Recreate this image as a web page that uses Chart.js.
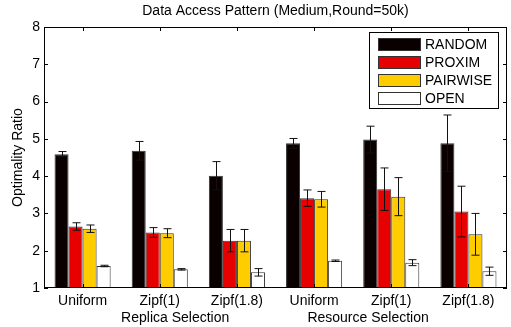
<!DOCTYPE html>
<html lang="en">
  <head>
    <meta charset="UTF-8" />
    <title>Data Access Pattern</title>
    <script src="https://cdn.jsdelivr.net/npm/chart.js"></script>
    <style>
      body {
        margin: 0;
        padding: 0;
        background: #fff;
      }
      .chart-box {
        width: 511px;
        height: 327px;
      }
    </style>
  </head>
  <body>
    <div class="chart-box">
      <canvas id="patternChart"></canvas>
    </div>

    <script>
      const categories = ["Uniform", "Zipf(1)", "Zipf(1.8)", "Uniform", "Zipf(1)", "Zipf(1.8)"];
      const groupLabels = ["Replica Selection", "Resource Selection"];
      const yTicks = [1, 2, 3, 4, 5, 6, 7, 8];

      const randomVals = [4.59, 4.68, 4.01, 4.88, 4.98, 4.88];
      const proximVals = [2.65, 2.49, 2.27, 3.41, 3.65, 3.05];
      const pairwiseVals = [2.59, 2.47, 2.27, 3.38, 3.45, 2.44];
      const openVals = [1.59, 1.5, 1.42, 1.73, 1.68, 1.45];

      const randomErr = [0.07, 0.25, 0.38, 0.13, 0.36, 0.76];
      const proximErr = [0.1, 0.13, 0.3, 0.22, 0.57, 0.68];
      const pairwiseErr = [0.1, 0.12, 0.3, 0.21, 0.51, 0.56];
      const openErr = [0.02, 0.02, 0.1, 0.02, 0.08, 0.11];

      const FONT = "'Liberation Sans', Arial, sans-serif";

      // error bars drawn on top of the bars, through the y scale
      const errorBars = {
        id: "errorBars",
        afterDatasetsDraw(chart) {
          const ctx = chart.ctx;
          const y = chart.scales.y;
          ctx.save();
          ctx.strokeStyle = "#111";
          ctx.lineWidth = 1;
          chart.data.datasets.forEach((ds, i) => {
            const meta = chart.getDatasetMeta(i);
            meta.data.forEach((bar, j) => {
              const v = ds.data[j];
              const e = ds.errors[j];
              const x = Math.round(bar.x) + 0.5;
              const top = y.getPixelForValue(v + e);
              const bot = y.getPixelForValue(v - e);
              ctx.beginPath();
              ctx.moveTo(x, top);
              ctx.lineTo(x, bot);
              ctx.moveTo(x - 4, top);
              ctx.lineTo(x + 4, top);
              ctx.moveTo(x - 4, bot);
              ctx.lineTo(x + 4, bot);
              ctx.stroke();
            });
          });
          ctx.restore();
        },
      };

      // frame, inward ticks, title, group labels and boxed legend
      const decorations = {
        id: "decorations",
        afterDraw(chart) {
          const ctx = chart.ctx;
          const a = chart.chartArea;
          const xs = chart.scales.x;
          const ys = chart.scales.y;
          ctx.save();
          ctx.strokeStyle = "#000";
          ctx.lineWidth = 1;
          ctx.strokeRect(Math.round(a.left) + 0.5, Math.round(a.top) + 0.5,
            Math.round(a.right - a.left) - 1, Math.round(a.bottom - a.top) - 1);

          ctx.beginPath();
          yTicks.forEach((t) => {
            const py = Math.round(ys.getPixelForValue(t)) + 0.5;
            ctx.moveTo(a.left, py);
            ctx.lineTo(a.left + 4, py);
            ctx.moveTo(a.right, py);
            ctx.lineTo(a.right - 4, py);
          });
          categories.forEach((c, i) => {
            const px = Math.round(xs.getPixelForValue(i)) + 0.5;
            ctx.moveTo(px, a.top);
            ctx.lineTo(px, a.top + 4);
            ctx.moveTo(px, a.bottom);
            ctx.lineTo(px, a.bottom - 4);
          });
          ctx.stroke();

          ctx.fillStyle = "#000";
          ctx.font = "14px " + FONT;
          ctx.textAlign = "center";
          ctx.textBaseline = "middle";
          ctx.fillText("Data Access Pattern (Medium,Round=50k)", (a.left + a.right) / 2, 11);
          ctx.fillText(groupLabels[0], xs.getPixelForValue(1.2), 318);
          ctx.fillText(groupLabels[1], xs.getPixelForValue(3.7), 318);

          // legend box
          const lx = 369, ly = 32, lw = 129, lh = 76;
          ctx.fillStyle = "#fff";
          ctx.fillRect(lx, ly, lw, lh);
          ctx.strokeRect(lx + 0.5, ly + 0.5, lw, lh);
          ctx.textAlign = "left";
          chart.data.datasets.forEach((ds, i) => {
            const cy = 44 + i * 18;
            ctx.fillStyle = ds.backgroundColor;
            ctx.fillRect(378, cy - 6, 42, 12);
            ctx.strokeStyle = "#333";
            ctx.strokeRect(378.5, cy - 5.5, 42, 12);
            ctx.fillStyle = "#000";
            ctx.fillText(ds.label, 425, cy + 1);
          });
          ctx.restore();
        },
      };

      function makeSet(label, data, errors, color) {
        return {
          label: label,
          data: data,
          errors: errors,
          backgroundColor: color,
          borderColor: "#333",
          borderWidth: 1,
          borderSkipped: "bottom",
          base: 1,
          categoryPercentage: 0.727,
          barPercentage: 1.0,
        };
      }

      const ctx = document.getElementById("patternChart").getContext("2d");
      new Chart(ctx, {
        type: "bar",
        data: {
          labels: categories,
          datasets: [
            makeSet("RANDOM", randomVals, randomErr, "#0a0000"),
            makeSet("PROXIM", proximVals, proximErr, "#e60000"),
            makeSet("PAIRWISE", pairwiseVals, pairwiseErr, "#ffcc00"),
            makeSet("OPEN", openVals, openErr, "#ffffff"),
          ],
        },
        options: {
          responsive: true,
          maintainAspectRatio: false,
          animation: false,
          layout: { padding: { top: 27, right: 4, left: 0, bottom: 0 } },
          plugins: {
            legend: { display: false },
            tooltip: { enabled: false },
          },
          scales: {
            x: {
              grid: { display: false, drawTicks: false },
              border: { display: false },
              ticks: { color: "#000", font: { family: FONT, size: 14 }, padding: 5 },
              afterFit: (scale) => {
                scale.height = 39;
              },
            },
            y: {
              min: 1,
              max: 8,
              afterBuildTicks: (scale) => {
                scale.ticks = yTicks.map((v) => ({ value: v }));
              },
              grid: { display: false, drawTicks: false },
              border: { display: false },
              ticks: { color: "#000", font: { family: FONT, size: 14 }, padding: 4 },
              title: {
                display: true,
                text: "Optimality Ratio",
                color: "#000",
                font: { family: FONT, size: 14 },
                padding: { top: 10, bottom: 0 },
              },
              afterFit: (scale) => {
                scale.width = 44;
              },
            },
          },
        },
        plugins: [errorBars, decorations],
      });
    </script>
  </body>
</html>
